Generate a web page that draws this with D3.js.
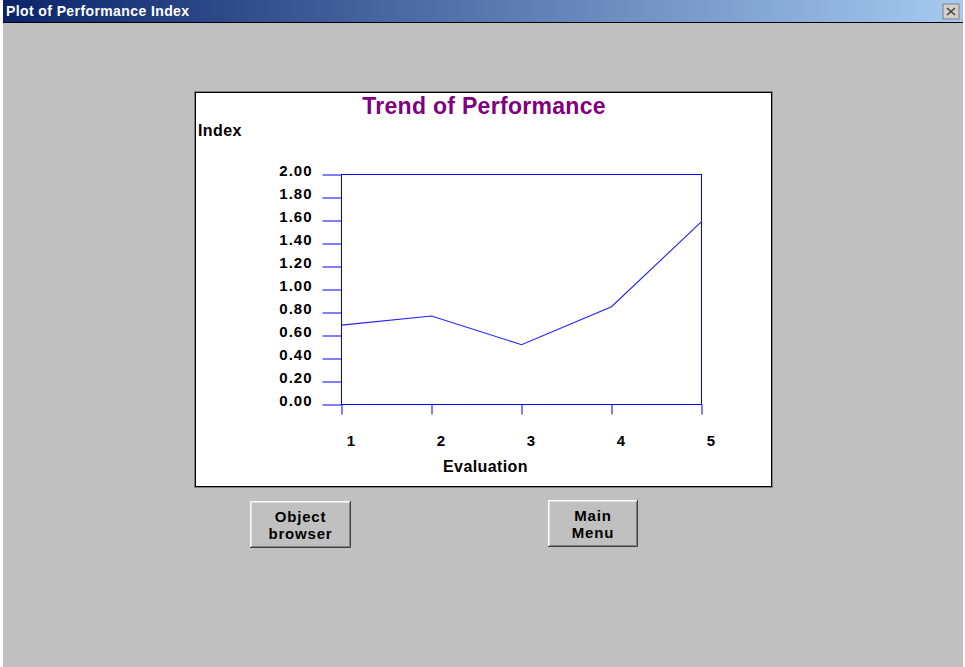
<!DOCTYPE html>
<html>
  <head>
    <script src="https://d3js.org/d3.v7.min.js"></script>
    <style>
      body { margin: 0; background: #ffffff; }
      text { font-family: "Liberation Sans", Arial, sans-serif; font-weight: bold; }
    </style>
  </head>
  <body>
    <svg width="965" height="667"></svg>

    <script type="text/javascript">
      // chart values
      var evaluations = [1, 2, 3, 4, 5];
      var indexValues = [0.69, 0.77, 0.52, 0.85, 1.59];
      var yTickValues = [0, 0.2, 0.4, 0.6, 0.8, 1.0, 1.2, 1.4, 1.6, 1.8, 2.0];
      var windowTitle = "Plot of Performance Index";
      var chartTitle = "Trend of Performance";
      var buttonLabels = [["Object", "browser"], ["Main", "Menu"]];

      var svg = d3.select("svg");

      // window frame
      var grad = svg.append("defs").append("linearGradient").attr("id", "titlebar");
      grad.append("stop").attr("offset", "0%").attr("stop-color", "#0a246a");
      grad.append("stop").attr("offset", "100%").attr("stop-color", "#a6caf0");

      svg.append("rect").attr("x", 3).attr("y", 0).attr("width", 960).attr("height", 667).attr("fill", "#c0c0c0");
      svg.append("rect").attr("x", 3).attr("y", 0).attr("width", 960).attr("height", 22).attr("fill", "url(#titlebar)");
      svg.append("line").attr("x1", 3).attr("x2", 963).attr("y1", 22.5).attr("y2", 22.5).attr("stroke", "#000");
      svg.append("text").attr("x", 6).attr("y", 16).attr("fill", "#fff")
        .style("font-size", "14px").style("letter-spacing", "0.4px").text(windowTitle);

      // close button
      var close = svg.append("g").attr("transform", "translate(943,4)");
      close.append("rect").attr("width", 16).attr("height", 15).attr("fill", "#d4d0c8").attr("stroke", "#808080");
      close.append("path").attr("d", "M4,4L12,11M12,4L4,11").attr("stroke", "#404040").attr("stroke-width", 1.5);

      // white chart panel
      svg.append("rect").attr("x", 194.5).attr("y", 91.5).attr("width", 578).attr("height", 396).attr("fill", "none").attr("stroke", "#808080");
      svg.append("rect").attr("x", 195.5).attr("y", 92.5).attr("width", 576).attr("height", 394).attr("fill", "#fff").attr("stroke", "#000");

      svg.append("text").attr("x", 484).attr("y", 114).attr("text-anchor", "middle")
        .attr("fill", "#800080").style("font-size", "23px").style("letter-spacing", "0.3px").text(chartTitle);
      svg.append("text").attr("x", 198).attr("y", 135.5).attr("fill", "#000")
        .style("font-size", "16px").style("letter-spacing", "0.4px").text("Index");

      var xScale = d3.scaleLinear().domain([1, 5]).range([341.5, 701.5]);
      var yScale = d3.scaleLinear().domain([0, 2]).range([404.5, 174.5]);

      // plot frame
      svg.append("rect")
        .attr("x", xScale(1)).attr("y", yScale(2))
        .attr("width", xScale(5) - xScale(1)).attr("height", yScale(0) - yScale(2))
        .attr("fill", "none").attr("stroke", "#0000ff");

      var yAxis = svg.append("g")
        .attr("transform", "translate(" + xScale(1) + ",0)")
        .call(d3.axisLeft(yScale).tickValues(yTickValues).tickSize(19).tickFormat(d3.format(".2f")));
      yAxis.select(".domain").remove();
      yAxis.selectAll(".tick line").attr("stroke", "#0000ff");
      yAxis.selectAll(".tick text")
        .attr("x", -29).attr("dy", null).attr("y", 1)
        .attr("fill", "#000").style("font-size", "15px")
        .style("letter-spacing", "1px").attr("font-family", null).attr("font-size", null);

      var xAxis = svg.append("g")
        .attr("transform", "translate(0," + yScale(0) + ")")
        .call(d3.axisBottom(xScale).tickValues(evaluations).tickSize(10).tickFormat(d3.format("d")));
      xAxis.select(".domain").remove();
      xAxis.selectAll(".tick line").attr("stroke", "#0000ff");
      xAxis.selectAll(".tick text")
        .attr("x", 9).attr("y", 41).attr("dy", null)
        .attr("fill", "#000").style("font-size", "15px").attr("font-family", null).attr("font-size", null);

      svg.append("text").attr("x", 485.5).attr("y", 472).attr("text-anchor", "middle")
        .attr("fill", "#000").style("font-size", "16px").style("letter-spacing", "0.4px").text("Evaluation");

      // data line
      var line = d3.line()
        .x(function (d, i) { return xScale(evaluations[i]); })
        .y(function (d) { return yScale(d); });
      svg.append("path")
        .attr("d", line(indexValues))
        .attr("fill", "none").attr("stroke", "#2020ff").attr("stroke-width", 1.1);

      // buttons
      var buttonBoxes = [[250, 501, 101, 47], [548, 500, 90, 47]];
      buttonLabels.forEach(function (lbl, i) {
        var b = buttonBoxes[i];
        var g = svg.append("g").attr("transform", "translate(" + b[0] + "," + b[1] + ")");
        g.append("rect").attr("width", b[2]).attr("height", b[3]).attr("fill", "#c0c0c0");
        g.append("path").attr("d", "M0.5," + (b[3] - 0.5) + "V0.5H" + (b[2] - 0.5))
          .attr("fill", "none").attr("stroke", "#fff");
        g.append("path").attr("d", "M1.5," + (b[3] - 1.5) + "V1.5H" + (b[2] - 1.5))
          .attr("fill", "none").attr("stroke", "#dfdfdf");
        g.append("path").attr("d", "M0," + (b[3] - 0.5) + "H" + (b[2] - 0.5) + "V0")
          .attr("fill", "none").attr("stroke", "#404040");
        g.append("path").attr("d", "M1.5," + (b[3] - 1.5) + "H" + (b[2] - 1.5) + "V1.5")
          .attr("fill", "none").attr("stroke", "#808080");
        lbl.forEach(function (t, j) {
          g.append("text").attr("x", b[2] / 2).attr("y", 21 + j * 17)
            .attr("text-anchor", "middle").attr("fill", "#000")
            .style("font-size", "15px").style("letter-spacing", "0.8px").text(t);
        });
      });
    </script>
  </body>
</html>
